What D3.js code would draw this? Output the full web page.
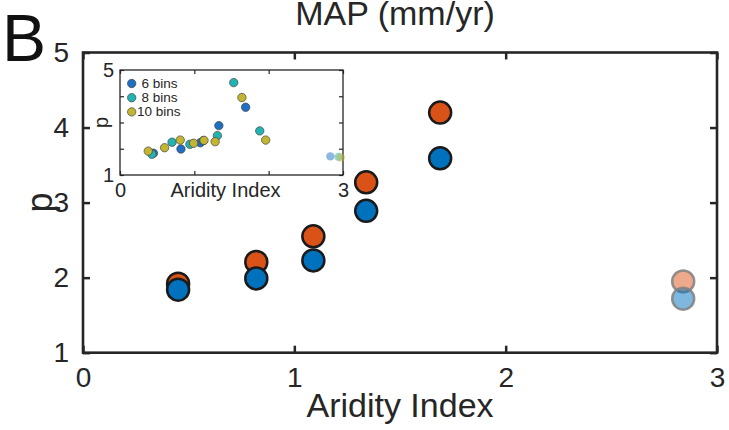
<!DOCTYPE html>
<html>
<head>
<meta charset="utf-8">
<script src="https://cdn.jsdelivr.net/npm/d3@7"></script>
<style>
  html, body { margin: 0; padding: 0; background: #fff; }
  svg { display: block; font-family: "Liberation Sans", Arial, sans-serif; }
</style>
</head>
<body>
<svg id="chart" width="729" height="430"></svg>
<script>
// Aridity index of each bin and exponent p for the two MAP groups
const aridity = [0.45, 0.82, 1.09, 1.34, 1.69, 2.84];
const pHigh   = [1.92, 2.21, 2.55, 3.27, 4.20, 1.95];
const pLow    = [1.84, 1.99, 2.23, 2.89, 3.59, 1.72];
const faded   = [false, false, false, false, false, true];

// Inset: sensitivity to the number of bins
const ai6  = [0.45, 0.82, 1.08, 1.33, 1.69, 2.83];
const p6   = [1.83, 1.99, 2.23, 2.88, 3.58, 1.71];
const f6   = [false, false, false, false, false, true];
const ai8  = [0.43, 0.70, 0.94, 1.12, 1.31, 1.53, 1.88, 2.94];
const p8   = [1.79, 2.25, 2.17, 2.31, 2.50, 4.52, 2.68, 1.69];
const f8   = [false, false, false, false, false, false, false, true];
const ai10 = [0.38, 0.60, 0.81, 0.99, 1.13, 1.28, 1.64, 1.96, 2.97];
const p10  = [1.91, 2.04, 2.33, 2.21, 2.32, 2.27, 3.95, 2.33, 1.67];
const f10  = [false, false, false, false, false, false, false, false, true];
const binLabels = ["6 bins", "8 bins", "10 bins"];

const xTicks = [0, 1, 2, 3];
const yTicks = [1, 2, 3, 4, 5];
const insetYLabels = [1, 5];

const ink = "#262626";
const svg = d3.select("#chart");

// ---------- main axes ----------
const x = d3.scaleLinear().domain([0, 3]).range([83, 717]);
const y = d3.scaleLinear().domain([1, 5]).range([352.7, 52.5]);

const main = svg.append("g");

// inward ticks on all four sides
const tickLen = 7;
main.append("g").attr("transform", `translate(0,${y(1)})`)
  .call(d3.axisBottom(x).tickValues(xTicks).tickSize(-tickLen).tickPadding(14).tickFormat(d3.format("d")))
  .call(g => g.select(".domain").remove());
main.append("g").attr("transform", `translate(0,${y(5)})`)
  .call(d3.axisTop(x).tickValues(xTicks).tickSize(-tickLen).tickFormat(""))
  .call(g => g.select(".domain").remove());
main.append("g").attr("transform", `translate(${x(0)},0)`)
  .call(d3.axisLeft(y).tickValues(yTicks).tickSize(-tickLen).tickPadding(14).tickFormat(d3.format("d")))
  .call(g => g.select(".domain").remove());
main.append("g").attr("transform", `translate(${x(3)},0)`)
  .call(d3.axisRight(y).tickValues(yTicks).tickSize(-tickLen).tickFormat(""))
  .call(g => g.select(".domain").remove());

main.selectAll(".tick line").attr("stroke", ink).attr("stroke-width", 2.5);
main.selectAll(".tick text").attr("fill", ink).attr("font-size", 28)
  .attr("font-family", "Liberation Sans, Arial, sans-serif");

main.append("rect")
  .attr("x", x(0)).attr("y", y(5))
  .attr("width", x(3) - x(0)).attr("height", y(1) - y(5))
  .attr("fill", "none").attr("stroke", ink).attr("stroke-width", 2.6);

// axis titles and panel letter
svg.append("text").attr("x", 395).attr("y", 25).attr("text-anchor", "middle")
  .attr("font-size", 34).attr("fill", ink).text("MAP (mm/yr)");
svg.append("text").attr("x", (x(0) + x(3)) / 2).attr("y", 417).attr("text-anchor", "middle")
  .attr("font-size", 34).attr("fill", ink).text("Aridity Index");
svg.append("text").attr("transform", `translate(52,${y(3)}) rotate(-90)`)
  .attr("text-anchor", "middle").attr("font-size", 36).attr("fill", ink).text("p");
svg.append("text").attr("x", 2).attr("y", 61)
  .attr("font-size", 66).attr("fill", "#111").text("B");

// main scatter: high-MAP group first, low-MAP group on top
const orange = "#D95319", blue = "#0072BD";
function mainSeries(vals, color) {
  main.append("g").selectAll("circle")
    .data(aridity.map((a, i) => ({ a, p: vals[i], f: faded[i] })))
    .join("circle")
    .attr("cx", d => x(d.a)).attr("cy", d => y(d.p)).attr("r", 11)
    .attr("fill", color)
    .attr("fill-opacity", d => d.f ? 0.5 : 1)
    .attr("stroke", d => d.f ? "#808080" : "#1a1a1a")
    .attr("stroke-opacity", d => d.f ? 0.85 : 1)
    .attr("stroke-width", 2.5);
}
mainSeries(pHigh, orange);
mainSeries(pLow, blue);

// ---------- inset ----------
const ix = d3.scaleLinear().domain([0, 3]).range([120, 343]);
const iy = d3.scaleLinear().domain([1, 5]).range([175, 70]);
const inset = svg.append("g");

inset.append("rect")
  .attr("x", ix(0)).attr("y", iy(5))
  .attr("width", ix(3) - ix(0)).attr("height", iy(1) - iy(5))
  .attr("fill", "#fff");

const iTick = 4;
inset.append("g").attr("transform", `translate(0,${iy(1)})`)
  .call(d3.axisBottom(ix).tickValues(xTicks).tickSize(-iTick).tickPadding(8)
    .tickFormat(d => (d === 0 || d === 3) ? d : ""))
  .call(g => g.select(".domain").remove());
inset.append("g").attr("transform", `translate(0,${iy(5)})`)
  .call(d3.axisTop(ix).tickValues(xTicks).tickSize(-iTick).tickFormat(""))
  .call(g => g.select(".domain").remove());
inset.append("g").attr("transform", `translate(${ix(0)},0)`)
  .call(d3.axisLeft(iy).tickValues(yTicks).tickSize(-iTick).tickPadding(6)
    .tickFormat(d => insetYLabels.includes(d) ? d : ""))
  .call(g => g.select(".domain").remove());
inset.append("g").attr("transform", `translate(${ix(3)},0)`)
  .call(d3.axisRight(iy).tickValues(yTicks).tickSize(-iTick).tickFormat(""))
  .call(g => g.select(".domain").remove());

inset.selectAll(".tick line").attr("stroke", ink).attr("stroke-width", 1.2);
inset.selectAll(".tick text").attr("fill", ink).attr("font-size", 20)
  .attr("font-family", "Liberation Sans, Arial, sans-serif");

inset.append("rect")
  .attr("x", ix(0)).attr("y", iy(5))
  .attr("width", ix(3) - ix(0)).attr("height", iy(1) - iy(5))
  .attr("fill", "none").attr("stroke", ink).attr("stroke-width", 1.3);

inset.append("text").attr("x", (ix(0) + ix(3)) / 2 - 6).attr("y", 197).attr("text-anchor", "middle")
  .attr("font-size", 20).attr("fill", ink).text("Aridity Index");
inset.append("text").attr("transform", `translate(108,${iy(3)}) rotate(-90)`)
  .attr("text-anchor", "middle").attr("font-size", 20).attr("fill", ink).text("p");

const binColors = ["#1F6FC4", "#22B3B2", "#C2B531"];
function insetSeries(xs, ps, fs, color) {
  inset.append("g").selectAll("circle")
    .data(xs.map((a, i) => ({ a, p: ps[i], f: fs[i] })))
    .join("circle")
    .attr("cx", d => ix(d.a)).attr("cy", d => iy(d.p)).attr("r", 4.2)
    .attr("fill", color)
    .attr("fill-opacity", d => d.f ? 0.5 : 1)
    .attr("stroke", d => d.f ? "none" : "#444")
    .attr("stroke-width", 0.7);
}
insetSeries(ai6, p6, f6, binColors[0]);
insetSeries(ai8, p8, f8, binColors[1]);
insetSeries(ai10, p10, f10, binColors[2]);

// legend
const leg = inset.append("g");
binLabels.forEach((lab, i) => {
  const ly = 83.5 + i * 14.2;
  leg.append("circle").attr("cx", 131.7).attr("cy", ly).attr("r", 4.2)
    .attr("fill", binColors[i]).attr("stroke", "#444").attr("stroke-width", 0.7);
  leg.append("text").attr("x", i === 2 ? 137 : 141.5).attr("y", ly + 4.5)
    .attr("font-size", 13.5).attr("fill", ink).text(lab);
});
</script>
</body>
</html>
